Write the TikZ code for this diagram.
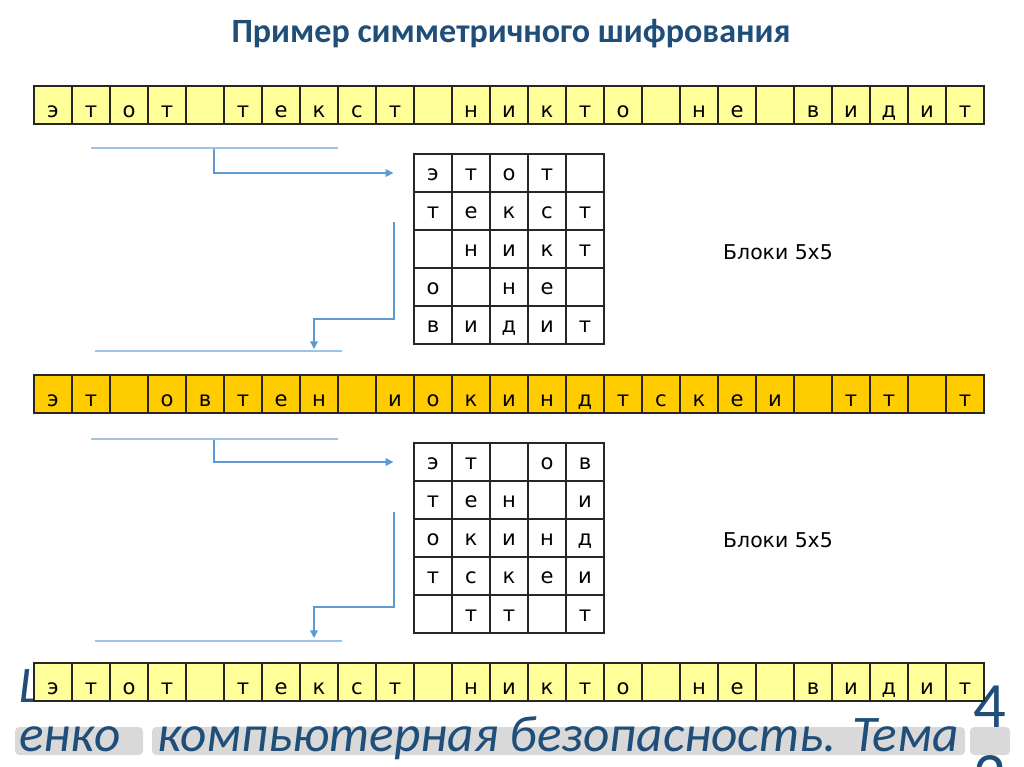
\documentclass[tikz,border=0pt]{standalone}
\usepackage{fontspec}
\setmainfont{DejaVu Sans}
\newfontfamily\carlito{Carlito}
\usetikzlibrary{arrows.meta}

\definecolor{paleyel}{HTML}{FFFF99}
\definecolor{goldyel}{HTML}{FFCC00}
\definecolor{arrblue}{HTML}{5B9BD5}
\definecolor{lineblue}{HTML}{9DC3E6}
\definecolor{titleblue}{HTML}{1F4E79}
\definecolor{footblue}{HTML}{1F4E79}
\definecolor{footgray}{HTML}{D9D9D9}

\tikzset{
  cell/.style={draw=black!85, line width=0.9pt, minimum width=0.95cm, minimum height=0.95cm,
    inner sep=0pt, text depth=0pt, font=\fontsize{15}{17}\selectfont},
  rowcell/.style={cell, text height=18pt},
  gridcell/.style={cell, fill=white, text height=11pt},
  flow/.style={arrblue, line width=1pt, -{Triangle[length=5.5pt,width=5.5pt]}},
  guide/.style={lineblue, line width=0.8pt},
  blocklabel/.style={font=\fontsize{14.5}{17}\selectfont},
  foottext/.style={footblue, anchor=base west, inner sep=0pt, font=\carlito\itshape\fontsize{36.5}{40}\selectfont}
}

\begin{document}
\begin{tikzpicture}[x=0.025cm, y=-0.025cm]
\clip (0,0) rectangle (1024,767);

% title:
\node[titleblue, font=\carlito\bfseries\fontsize{24.2}{28}\selectfont] (title) at (511,34) {Пример симметричного шифрования};

% footer (lies behind the last row):
\fill[footgray, rounded corners=3pt] (15,727) rectangle (143,755);
\fill[footgray, rounded corners=3pt] (152,727) rectangle (965,755);
\fill[footgray, rounded corners=3pt] (970,727) rectangle (1010,755);
\node[foottext] (hidden) at (18,702) {Ш};
\node[foottext] (foot1) at (19,751) {енко};
\node[foottext] (foot2) at (157,751) {компьютерная безопасность. Тема};
\node[foottext, font=\carlito\fontsize{46}{50}\selectfont, anchor=base] (num4) at (990,727) {4};
\node[foottext, font=\carlito\fontsize{46}{50}\selectfont, anchor=base] (num2) at (990,797) {2};

% plain text row:
\foreach \l [count=\c] in {э,т,о,т,{},т,е,к,с,т,{},н,и,к,т,о,{},н,е,{},в,и,д,и,т}
  \node[rowcell, fill=paleyel] (ra-\c) at (15+38*\c,105) {\l};

% first block 5x5:
\foreach \row [count=\r] in {{э,т,о,т,{}},{т,е,к,с,т},{{},н,и,к,т},{о,{},н,е,{}},{в,и,д,и,т}}
  \foreach \l [count=\c] in \row
    \node[gridcell] (ga-\r-\c) at (395+38*\c,135+38*\r) {\l};
\node[blocklabel] (labela) at (778,252) {Блоки 5x5};

% arrows in and out of the first block:
\coordinate (la1) at (91,148); \coordinate (la2) at (338,148);
\coordinate (sa) at (214,149);
\coordinate (ka) at (394,222);
\coordinate (ea) at (314,349);
\coordinate (lb1) at (95,351); \coordinate (lb2) at (342,351);
\draw[guide] (la1) -- (la2);
\draw[flow, shorten >=0.5cm] (sa) |- (ga-1-1.west);
\draw[flow] (ka) -- ++(0,97) -| (ea);
\draw[guide] (lb1) -- (lb2);

% cipher text row:
\foreach \l [count=\c] in {э,т,{},о,в,т,е,н,{},и,о,к,и,н,д,т,с,к,е,и,{},т,т,{},т}
  \node[rowcell, fill=goldyel] (rb-\c) at (15+38*\c,394) {\l};

% second block 5x5:
\foreach \row [count=\r] in {{э,т,{},о,в},{т,е,н,{},и},{о,к,и,н,д},{т,с,к,е,и},{{},т,т,{},т}}
  \foreach \l [count=\c] in \row
    \node[gridcell] (gb-\r-\c) at (395+38*\c,424+38*\r) {\l};
\node[blocklabel] (labelb) at (778,540) {Блоки 5x5};

% arrows in and out of the second block:
\coordinate (lc1) at (91,439); \coordinate (lc2) at (338,439);
\coordinate (sb) at (214,440);
\coordinate (kb) at (394,512);
\coordinate (eb) at (314,638);
\coordinate (ld1) at (95,641); \coordinate (ld2) at (342,641);
\draw[guide] (lc1) -- (lc2);
\draw[flow, shorten >=0.5cm] (sb) |- (gb-1-1.west);
\draw[flow] (kb) -- ++(0,95) -| (eb);
\draw[guide] (ld1) -- (ld2);

% decrypted row:
\foreach \l [count=\c] in {э,т,о,т,{},т,е,к,с,т,{},н,и,к,т,о,{},н,е,{},в,и,д,и,т}
  \node[rowcell, fill=paleyel] (rc-\c) at (15+38*\c,682) {\l};
\end{tikzpicture}
\end{document}
